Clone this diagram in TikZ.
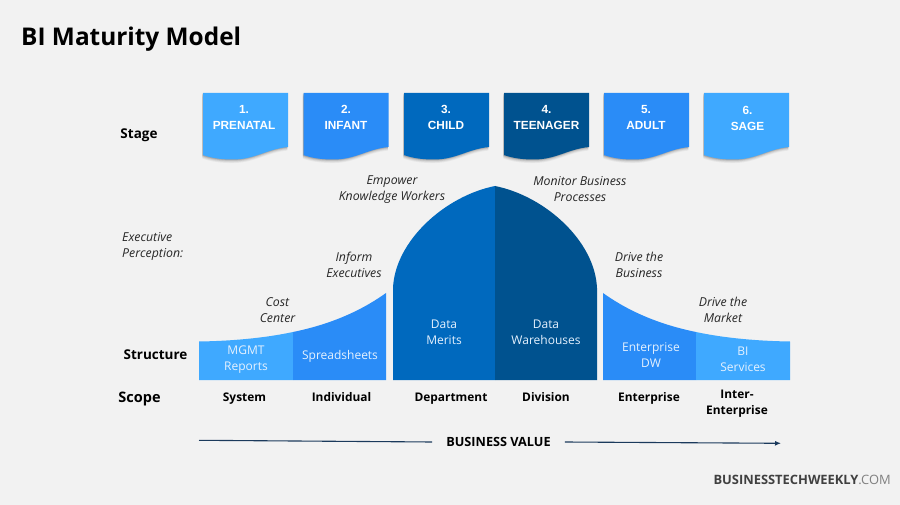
\documentclass[tikz,border=0pt]{standalone}
\usepackage{fontspec}
\setmainfont{Open Sans}
\newfontfamily\cardfont{Liberation Sans}
\usetikzlibrary{arrows.meta}
\definecolor{bgc}{HTML}{F2F2F2}
\definecolor{cA}{HTML}{3FA9FF}
\definecolor{cB}{HTML}{2A8CF7}
\definecolor{cC}{HTML}{0069BE}
\definecolor{cD}{HTML}{00528F}
\definecolor{navy}{HTML}{1B3A5C}
\tikzset{
  x=1pt,y=-1pt,
  stagecard/.style={inner sep=0pt,text=white,align=center,font=\cardfont\bfseries\fontsize{11.8}{16}\selectfont},
  rowlabel/.style={inner sep=0pt,anchor=base,font=\bfseries\fontsize{13.5}{16}\selectfont,text=black},
  persp/.style={inner sep=0pt,align=center,font=\itshape\fontsize{12.3}{16}\selectfont,text=black!85},
  inlabel/.style={inner sep=0pt,align=center,text=white!88!cB,font=\fontsize{12}{16}\selectfont},
  scopelabel/.style={inner sep=0pt,align=center,font=\bfseries\fontsize{11.9}{16}\selectfont,text=black},
  flow/.style={draw=navy,line width=1.1pt},
}
\newcommand{\cardpath}[1]{%
  (#1,93) -- (#1+85,93) -- (#1+85,147) .. controls (#1+64,149) and (#1+52,159.5) .. (#1+30,159.5)
  .. controls (#1+18,159.5) and (#1+8,158) .. (#1,155) -- cycle}
\newcommand{\card}[2]{%
  \foreach \s/\o in {3.6/0.04,2.8/0.05,2/0.07,1.2/0.09,0.5/0.11}{
    \fill[black,opacity=\o,shift={(-0.6,\s)}] \cardpath{#1};}
  \fill[#2] \cardpath{#1};}
\begin{document}
\begin{tikzpicture}
\useasboundingbox (0,0) rectangle (900,505);
\fill[bgc] (0,0) rectangle (900,505);
\node[anchor=west,inner sep=0pt,font=\bfseries\fontsize{24.4}{28}\selectfont] (title) at (21,39) {BI Maturity Model};
% stage cards
\card{203}{cA}\card{303.5}{cB}\card{404}{cC}\card{504}{cD}\card{604}{cB}\card{704}{cA}
\node[stagecard] (s1) at (244,117.5) {1.\\PRENATAL};
\node[stagecard] (s2) at (346,117.5) {2.\\INFANT};
\node[stagecard] (s3) at (446,117.5) {3.\\CHILD};
\node[stagecard] (s4) at (546.5,117.5) {4.\\TEENAGER};
\node[stagecard] (s5) at (646,117.5) {5.\\ADULT};
\node[stagecard] (s6) at (747.5,118.5) {6.\\SAGE};
% row labels
\node[rowlabel] (stage) at (139,139) {Stage};
\node[rowlabel] (structure) at (155.5,359) {Structure};
\node[rowlabel,font=\bfseries\fontsize{14.5}{16}\selectfont] (scope) at (139.5,402) {Scope};
\node[persp,anchor=west,align=left] (exec) at (122,246.5) {Executive\\Perception:};
% curve
\fill[cA] (199,380) -- (199,341.5) .. controls (232,341) and (265,338) .. (293,332) -- (293,380) -- cycle;
\fill[cB] (293,380) -- (293,332) .. controls (327,325) and (358,313) .. (386,293) -- (386,380) -- cycle;
\fill[cC] (393,380) -- (393,288) .. controls (395,241) and (445,196) .. (495,186) -- (495,380) -- cycle;
\fill[cD] (495,380) -- (495,186) .. controls (545,196) and (595,241) .. (597,288) -- (597,380) -- cycle;
\fill[cB] (603,380) -- (603,293) .. controls (631,313) and (662,325) .. (696,332) -- (696,380) -- cycle;
\fill[cA] (696,380) -- (696,332) .. controls (724,338) and (757,341) .. (790,341.5) -- (790,380) -- cycle;
% inner labels
\node[inlabel] (i1) at (246,359.5) {MGMT\\Reports};
\node[inlabel] (i2) at (340,356.5) {Spreadsheets};
\node[inlabel] (i3) at (444,332) {Data\\Merits};
\node[inlabel] (i4) at (546,332.5) {Data\\Warehouses};
\node[inlabel] (i5) at (651,355.5) {Enterprise\\DW};
\node[inlabel] (i6) at (743,359.5) {BI\\Services};
% perception
\node[persp] (p1) at (277.5,310) {Cost\\Center};
\node[persp] (p2) at (354,265) {Inform\\Executives};
\node[persp] (p3) at (392,189.5) {Empower\\Knowledge Workers};
\node[persp] (p4) at (580,189) {Monitor Business\\Processes};
\node[persp] (p5) at (639,265) {Drive the\\Business};
\node[persp] (p6) at (723,310) {Drive the\\Market};
% scope
\node[scopelabel,anchor=base] (c1) at (244.5,401) {System};
\node[scopelabel,anchor=base] (c2) at (341.5,401) {Individual};
\node[scopelabel,anchor=base] (c3) at (451,401) {Department};
\node[scopelabel,anchor=base] (c4) at (546,401) {Division};
\node[scopelabel,anchor=base] (c5) at (649,401) {Enterprise};
\node[scopelabel,anchor=north] (c6) at (737,390) {Inter-\\Enterprise};
% business value
\node[scopelabel,inner xsep=14pt,font=\bfseries\fontsize{12.7}{16}\selectfont] (bv) at (498.5,442) {BUSINESS VALUE};
\coordinate (bvl) at (199,440.3);
\coordinate (bvr) at (781,443.3);
\draw[flow] (bvl) -- (bv.west);
\draw[flow,-{Latex[length=6pt,width=5pt]}] (bv.east) -- (bvr);
% logo
\node[anchor=east,inner sep=0pt,font=\fontsize{12.9}{15}\selectfont,text=black!75] (logo) at (891,480) {\textbf{BUSINESSTECHWEEKLY}{\color{black!50}.COM}};
\end{tikzpicture}
\end{document}
